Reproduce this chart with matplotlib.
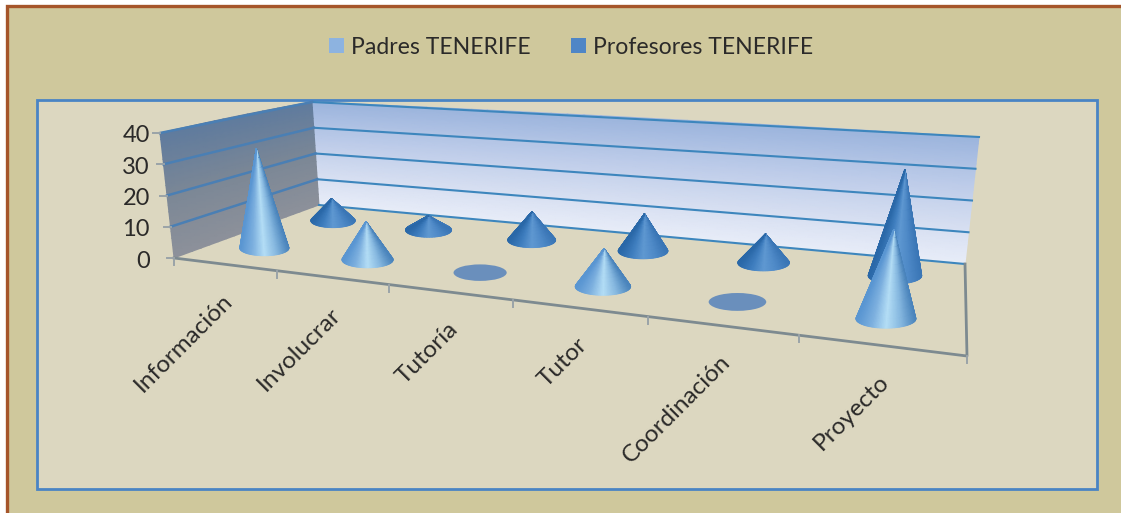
import numpy as np
import matplotlib
matplotlib.use("Agg")
import matplotlib.pyplot as plt
from matplotlib.colors import LinearSegmentedColormap as LSC
from matplotlib.patches import Rectangle, Ellipse, Patch

categories = ["Información", "Involucrar", "Tutoría", "Tutor", "Coordinación", "Proyecto"]
padres = [32.5, 12, 0, 11, 0, 24]
profesores = [8, 5, 9.5, 12, 9, 32]
series_names = ["Padres TENERIFE", "Profesores TENERIFE"]
y_ticks = [0, 10, 20, 30, 40]

plt.rcParams["font.family"] = ["Lato", "DejaVu Sans"]
W, H = 1121, 513
fig = plt.figure(figsize=(W / 100, H / 100), dpi=100, facecolor="white")
ax = fig.add_axes([0, 0, 1, 1])
ax.set_xlim(0, W); ax.set_ylim(H, 0); ax.axis("off")

# ---- frame -----
ax.add_patch(Rectangle((7, 6), W + 20, H + 20, fc="#cfc89c", ec="#a5552a", lw=2.4))
ax.add_patch(Rectangle((37, 100), 1060, 389, fc="#dcd7c0", ec="#4a84c4", lw=2))

# ---- projection of the 3D box (layout of the chart) ----
FL, FR, BR, BL = map(np.array, [(174., 258.), (967., 356.), (965., 264.), (319., 205.)])
UP = {"FL": np.array((-14., -125.)), "FR": np.array((16., -160.)),
      "BR": np.array((14., -127.)), "BL": np.array((-7., -103.))}
YMAX = 40.

def homography(pts):
    src = [(0, 0), (1, 0), (1, 1), (0, 1)]
    A, b = [], []
    for (s, t), (x, y) in zip(src, pts):
        A.append([s, t, 1, 0, 0, 0, -s * x, -t * x]); b.append(x)
        A.append([0, 0, 0, s, t, 1, -s * y, -t * y]); b.append(y)
    h = np.linalg.solve(np.array(A, float), np.array(b, float))
    return np.append(h, 1).reshape(3, 3)

HM = homography([FL, FR, BR, BL])

def floor(u, v):
    u = u + 0.008 * np.sin(np.pi * u)
    p = HM @ np.array([u, v, 1.0])
    return p[:2] / p[2]

def up_vec(u, v):
    return ((1 - u) * (1 - v) * UP["FL"] + u * (1 - v) * UP["FR"]
            + u * v * UP["BR"] + (1 - u) * v * UP["BL"]) / YMAX

def proj(u, v, z):
    return floor(u, v) + up_vec(u, v) * z

def mesh(ax, X, Y, C, cmap, z):
    ax.pcolormesh(X, Y, C, cmap=cmap, vmin=0, vmax=1, shading="gouraud", zorder=z)

# ---- walls -----
us = np.linspace(0, 1, 40); zs = np.linspace(0, YMAX, 20)
pts = np.array([[proj(u, 1, z) for u in us] for z in zs])
back_cmap = LSC.from_list("b", ["#e8edf8", "#d3dcf0", "#b9c9e8", "#9bb4dc"])
mesh(ax, pts[..., 0], pts[..., 1], np.array([[z / YMAX for u in us] for z in zs]), back_cmap, 2)

vs = np.linspace(0, 1, 20)
pts = np.array([[proj(0, v, z) for v in vs] for z in zs])
left_cmap = LSC.from_list("l", ["#8d919a", "#7b8796", "#5f7b9e"])
mesh(ax, pts[..., 0], pts[..., 1], np.array([[z / YMAX for v in vs] for z in zs]), left_cmap, 2)

grid_c = "#3d86bd"
for t in y_ticks:
    a, b, c = proj(0, 0, t), proj(0, 1, t), proj(1, 1, t)
    ax.plot([b[0], c[0]], [b[1], c[1]], color=grid_c, lw=1.5, zorder=3)
    if t > 0:
        ax.plot([a[0], b[0]], [a[1], b[1]], color="#4a7fb4", lw=1.8, zorder=3)

# ---- axis lines / ticks -----
axis_c = "#7d8a90"
corners = [proj(0, 0, 0), proj(1, 0, 0), proj(1, 1, 0)]
ax.plot(*zip(*corners), color=axis_c, lw=2.0, zorder=4)
for i in range(len(categories) + 1):
    x, y = proj(i / len(categories), 0, 0)
    ax.plot([x, x], [y, y + 7], color="#9aa3a8", lw=1.4, zorder=4)
for t in y_ticks:
    x, y = proj(0, 0, t)
    ax.plot([x - 7, x], [y, y], color="#9aa3a8", lw=1.4, zorder=4)
    ax.text(150, y + 3, str(t), ha="right", va="center", fontsize=17, color="#2b2a29", zorder=6)
for i, name in enumerate(categories):
    x, y = proj((i + 0.5) / len(categories), 0, 0)
    ax.text(x - 2, y + 26, name, rotation=45, rotation_mode="anchor", ha="right", va="top",
            fontsize=17.5, color="#2b2a29", zorder=6)

# ---- cones -----
cm_pad = LSC.from_list("p", ["#5a96d2", "#7db0df", "#b4def6", "#86b8e0", "#4a84bc"])
cm_pro = LSC.from_list("q", ["#2a68a8", "#3f7ebf", "#6099d2", "#4f8ac8", "#3a76b6"])
flat_c = "#6a8fbc"

def cone(u, v, val, cmap, z):
    base = floor(u, v)
    scale = np.hypot(*up_vec(u, v))
    rx = 8.0 * scale
    ry = rx * 0.31
    if val == 0:
        ax.add_patch(Ellipse(base, 2 * rx, 2 * ry, fc=flat_c, ec="none", zorder=z))
        return
    apex = proj(u, v, val)
    px, py = (apex[0] - base[0]) / rx, (apex[1] - base[1]) / ry
    d = np.hypot(px, py)
    phi = np.arctan2(py, px)
    a = np.arccos(1 / d)
    start, end = phi + a, phi - a + 2 * np.pi
    th = np.linspace(start, end, 60)
    bx, by = base[0] + rx * np.cos(th), base[1] + ry * np.sin(th)
    ts = np.linspace(0, 1, 12)
    X = np.array([apex[0] + t * (bx - apex[0]) for t in ts])
    Y = np.array([apex[1] + t * (by - apex[1]) for t in ts])
    C = np.tile((bx - bx.min()) / (bx.max() - bx.min()), (len(ts), 1))
    mesh(ax, X, Y, C, cmap, z)

n = len(categories)
for i, val in enumerate(profesores):
    cone((i + 0.5) / n, 0.75, val, cm_pro, 5)
for i, val in enumerate(padres):
    cone((i + 0.5) / n, 0.25, val, cm_pad, 5.5)

# ---- legend -----
ax.legend(handles=[Patch(fc="#8db3e0", ec="none", label=series_names[0]),
                   Patch(fc="#4f86c6", ec="none", label=series_names[1])],
          loc="center", bbox_to_anchor=(571, 47), bbox_transform=ax.transData,
          ncol=2, frameon=False, fontsize=16.6, handlelength=0.65, handleheight=0.65,
          handletextpad=0.3, columnspacing=1.78, labelcolor="#2b2a29")

fig.savefig("out.png", dpi=100, facecolor="white")
